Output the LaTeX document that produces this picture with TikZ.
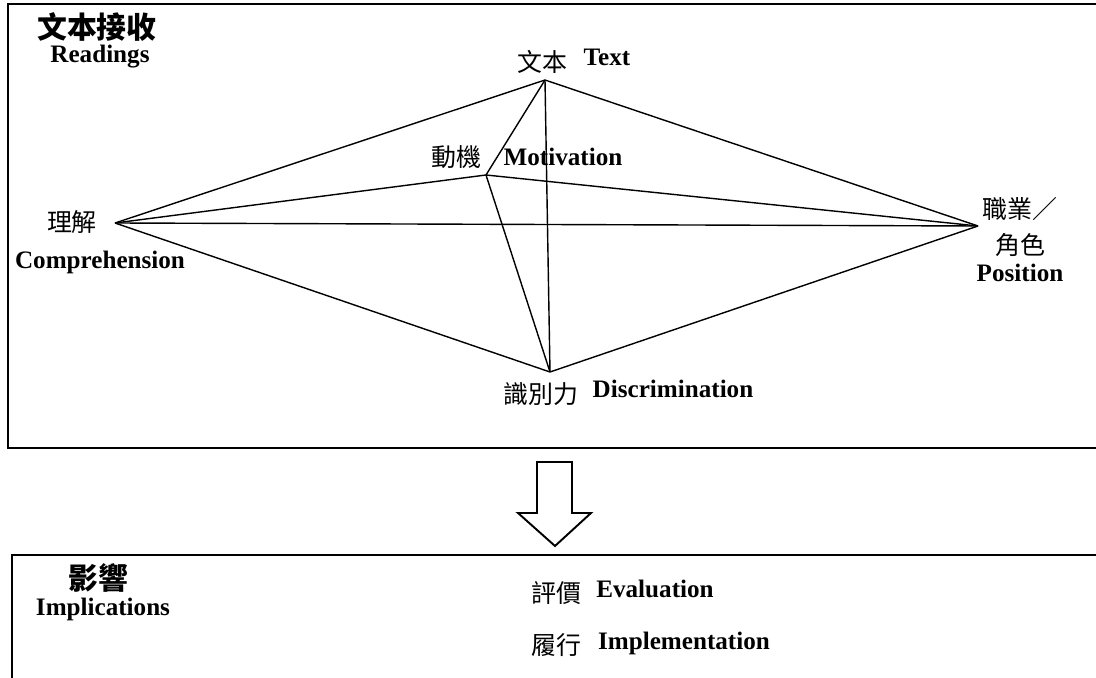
\documentclass[tikz,border=0pt]{standalone}
\usepackage{fontspec}
\setmainfont{Liberation Serif}
\newfontfamily\cjk{Noto Sans CJK TC}
\usepackage{tikz}

\tikzset{
  zh/.style={inner sep=0pt, font=\cjk\fontsize{14.2}{16}\selectfont},
  en/.style={inner sep=0pt, font=\bfseries\fontsize{14.3}{16}\selectfont},
  head/.style={inner sep=0pt, font=\cjk\bfseries\fontsize{17}{19}\selectfont},
  edge/.style={line width=0.8pt},
  frame/.style={line width=1.2pt}
}

\begin{document}
\begin{tikzpicture}[x=0.02cm, y=-0.02cm]
\useasboundingbox (0,0) rectangle (1096,678);

% Readings frame
\draw[frame] (1096,4) -- (8,4) -- (8,448) -- (1096,448);
\node[head] (readzh) at (97,27) {文本接收};
\node[en] (readen) at (100,57) {Readings};

% corners of the figure
\coordinate (txt) at (545,80);
\coordinate (mot) at (486,175);
\coordinate (comp) at (115,223);
\coordinate (pos) at (978,226);
\coordinate (disc) at (550,372);

% every pair joined
\foreach \a/\b in {txt/mot, txt/comp, txt/pos, txt/disc, mot/comp, mot/pos, mot/disc, comp/pos, comp/disc, pos/disc}
    \draw[edge] (\a) -- (\b);

% labels
\node[zh] (txtzh) at (542,62) {文本};
\node[en] (txten) at (607,57) {Text};
\node[zh] (motzh) at (456,157) {動機};
\node[en] (moten) at (563,157) {Motivation};
\node[zh] (compzh) at (72,222) {理解};
\node[en] (compen) at (100,262) {Comprehension};
\node[zh] (poszh) at (1020,209) {職業／};
\node[zh] (poszhb) at (1020,245) {角色};
\node[en] (posen) at (1020,273) {Position};
\node[zh] (disczh) at (541,394) {識別力};
\node[en] (discen) at (673,389) {Discrimination};

% Arrow down
\draw[line width=1.1pt, line join=miter] (537,462) -- (572,462) -- (572,513) -- (591,513)
    -- (555,546) -- (518,513) -- (537,513) -- cycle;

% Implications frame
\draw[frame] (1096,555) -- (12,555) -- (12,678);
\node[head] (impzh) at (98,578) {影響};
\node[en] (impen) at (103,609) {Implications};
\node[zh] (evalzh) at (556,593) {評價};
\node[en] (evalen) at (655,589) {Evaluation};
\node[zh] (implzh) at (556,645) {履行};
\node[en] (implen) at (684,643) {Implementation};

\end{tikzpicture}
\end{document}
